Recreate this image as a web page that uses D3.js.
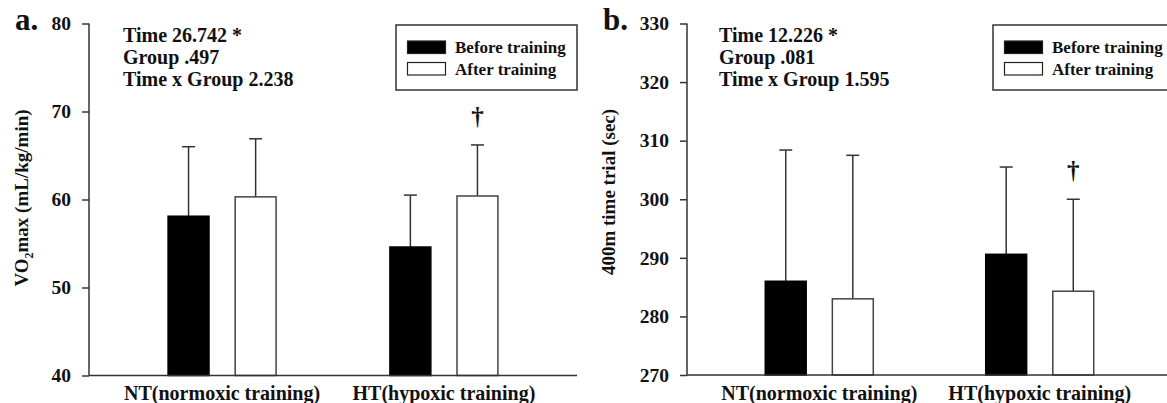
<!DOCTYPE html>
<html lang="en">
<head>
  <meta charset="UTF-8">
  <title>VO2max and 400m time trial</title>
  <style>
    body { margin: 0; background: #fff; }
    svg { display: block; background: #fff; }
    text { font-family: "Liberation Serif", "Times New Roman", serif; font-weight: bold; fill: #111; }
    .axis path, .axis line { stroke: #333; stroke-width: 1.5; }
    .axis text { font-size: 19.5px; fill: #111; }
  </style>
  <script src="https://d3js.org/d3.v7.min.js"></script>
</head>
<body>
  <svg width="1167" height="403"></svg>

  <script>
    // data
    const categories = ["NT(normoxic training)", "HT(hypoxic training)"];
    const seriesNames = ["Before training", "After training"];

    const vo2Before = [58.1, 54.6];
    const vo2BeforeSD = [7.9, 5.9];
    const vo2After = [60.3, 60.4];
    const vo2AfterSD = [6.6, 5.8];
    const vo2Ticks = [40, 50, 60, 70, 80];
    const vo2Stats = ["Time 26.742 *", "Group .497", "Time x Group 2.238"];

    const ttBefore = [286.0, 290.6];
    const ttBeforeSD = [22.4, 14.9];
    const ttAfter = [283.0, 284.3];
    const ttAfterSD = [24.5, 15.7];
    const ttTicks = [270, 280, 290, 300, 310, 320, 330];
    const ttStats = ["Time 12.226 *", "Group .081", "Time x Group 1.595"];

    // dagger marks: [category index, series index]
    const vo2Dagger = [[1, 1]];
    const ttDagger = [[1, 1]];

    const svg = d3.select("svg");

    function panel(opt) {
      const g = svg.append("g");
      const y = d3.scaleLinear().domain(opt.domain).range([opt.bottom, opt.top]);
      const x = d3.scalePoint().domain(categories).range([opt.left, opt.right]).padding(0.6);
      const inner = d3.scaleBand().domain(seriesNames).range([-54, 54]).paddingInner(0.39);

      const rows = [];
      categories.forEach((c, i) => {
        rows.push({ c, s: seriesNames[0], v: opt.before[i], sd: opt.beforeSD[i], ci: i, si: 0 });
        rows.push({ c, s: seriesNames[1], v: opt.after[i], sd: opt.afterSD[i], ci: i, si: 1 });
      });
      const mid = d => x(d.c) + inner(d.s) + inner.bandwidth() / 2;

      // error bars (upper only)
      const eb = g.selectAll(".err").data(rows).enter().append("g")
        .attr("stroke", "#333").attr("stroke-width", 1.5);
      eb.append("line")
        .attr("x1", mid).attr("x2", mid)
        .attr("y1", d => y(d.v))
        .attr("y2", d => y(d.v + d.sd));
      eb.append("line")
        .attr("x1", d => mid(d) - 6.5)
        .attr("x2", d => mid(d) + 6.5)
        .attr("y1", d => y(d.v + d.sd))
        .attr("y2", d => y(d.v + d.sd));

      // bars
      g.selectAll(".bar").data(rows).enter().append("rect")
        .attr("x", d => x(d.c) + inner(d.s))
        .attr("width", inner.bandwidth())
        .attr("y", d => y(d.v))
        .attr("height", d => opt.bottom - y(d.v))
        .attr("fill", d => d.si === 0 ? "#000" : "#fff")
        .attr("stroke", d => d.si === 0 ? "#000" : "#444")
        .attr("stroke-width", 1.5);

      // daggers
      opt.daggers.forEach(([ci, si]) => {
        const d = rows.find(r => r.ci === ci && r.si === si);
        g.append("text")
          .attr("x", mid(d))
          .attr("y", y(d.v + d.sd) - 20)
          .attr("text-anchor", "middle")
          .attr("font-size", 25)
          .text("\u2020");
      });

      // axes
      g.append("g").attr("class", "axis")
        .attr("transform", `translate(${opt.left},0)`)
        .call(d3.axisLeft(y).tickValues(opt.ticks).tickSize(7).tickPadding(11).tickSizeOuter(0))
        .call(a => a.select(".domain").attr("d", `M0,${opt.top}V${opt.bottom}`));
      g.append("line")
        .attr("x1", opt.left).attr("x2", opt.right)
        .attr("y1", opt.bottom).attr("y2", opt.bottom)
        .attr("stroke", "#333").attr("stroke-width", 1.5);

      // category labels
      g.selectAll(".cat").data(categories).enter().append("text")
        .attr("x", d => x(d))
        .attr("y", 400)
        .attr("text-anchor", "middle")
        .attr("font-size", 20)
        .text(d => d);

      // panel letter
      g.append("text")
        .attr("x", opt.letterX).attr("y", 30)
        .attr("font-size", 31)
        .text(opt.letter);

      // y title
      const t = g.append("text")
        .attr("transform", `translate(${opt.titleX},${opt.titleY}) rotate(-90)`)
        .attr("text-anchor", "middle")
        .attr("font-size", 19);
      opt.title(t);

      // stats
      g.selectAll(".stat").data(opt.stats).enter().append("text")
        .attr("x", opt.statX)
        .attr("y", (d, i) => 42 + i * 22)
        .attr("font-size", 20)
        .text(d => d);

      // legend
      const lg = g.append("g").attr("transform", `translate(${opt.legendX},25)`);
      lg.append("rect").attr("width", 181).attr("height", 65)
        .attr("fill", "#fff").attr("stroke", "#333").attr("stroke-width", 1.5);
      seriesNames.forEach((s, i) => {
        lg.append("rect")
          .attr("x", 11.5).attr("y", 16 + i * 21.5)
          .attr("width", 38).attr("height", 12.5)
          .attr("fill", i === 0 ? "#000" : "#fff")
          .attr("stroke", "#222").attr("stroke-width", 1.2);
        lg.append("text")
          .attr("x", 59).attr("y", 28 + i * 21.5)
          .attr("font-size", 17)
          .text(s);
      });
    }

    panel({
      letter: "a.", letterX: 15,
      left: 89, right: 577, top: 23.5, bottom: 375.5,
      domain: [40, 80], ticks: vo2Ticks,
      before: vo2Before, beforeSD: vo2BeforeSD, after: vo2After, afterSD: vo2AfterSD,
      daggers: vo2Dagger, stats: vo2Stats, statX: 123, legendX: 396,
      titleX: 28, titleY: 198,
      title: t => {
        t.append("tspan").text("VO");
        t.append("tspan").attr("font-size", 12).attr("dy", 5).text("2");
        t.append("tspan").attr("dy", -5).text("max (mL/kg/min)");
      }
    });

    panel({
      letter: "b.", letterX: 603,
      left: 687, right: 1172, top: 23.5, bottom: 375,
      domain: [270, 330], ticks: ttTicks,
      before: ttBefore, beforeSD: ttBeforeSD, after: ttAfter, afterSD: ttAfterSD,
      daggers: ttDagger, stats: ttStats, statX: 719, legendX: 993,
      titleX: 615, titleY: 192,
      title: t => t.text("400m time trial (sec)")
    });
  </script>
</body>
</html>
